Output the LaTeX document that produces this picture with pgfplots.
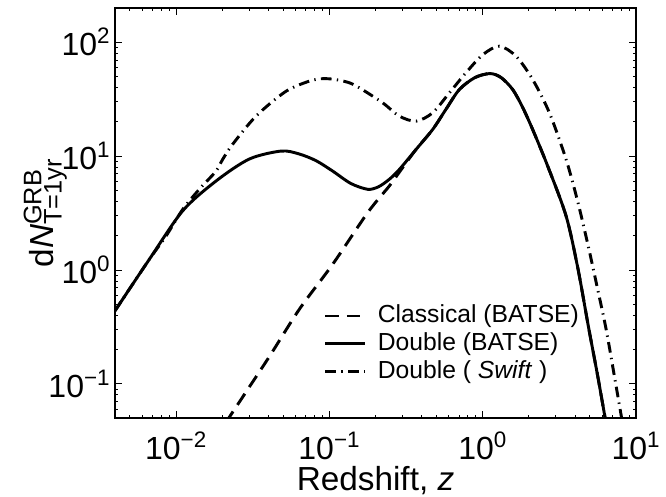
\documentclass[border=0pt]{standalone}
\usepackage{fontspec}
\setmainfont{Liberation Sans}
\usepackage{pgfplots}
\pgfplotsset{compat=1.18}

\begin{document}
\begin{tikzpicture}
\begin{axis}[
  name=ax,
  xmode=log, ymode=log,
  scale only axis, width=390.75pt, height=307.5pt,
  xmin=0.004, xmax=10, ymin=0.05, ymax=200,
  xtick={0.01,0.1,1,10},
  xticklabels={10\textsuperscript{−2},10\textsuperscript{−1},10\textsuperscript{0},10\textsuperscript{1}},
  ytick={0.1,1,10,100},
  yticklabels={10\textsuperscript{−1},10\textsuperscript{0},10\textsuperscript{1},10\textsuperscript{2}},
  minor xtick={0.005,0.006,0.007,0.008,0.009,0.02,0.03,0.04,0.05,0.06,0.07,0.08,0.09,0.2,0.3,0.4,0.5,0.6,0.7,0.8,0.9,2,3,4,5,6,7,8,9},
  minor ytick={0.06,0.07,0.08,0.09,0.2,0.3,0.4,0.5,0.6,0.7,0.8,0.9,2,3,4,5,6,7,8,9,20,30,40,50,60,70,80,90},
  tick align=inside, xtick pos=both, ytick pos=both,
  major tick length=5pt, minor tick length=2.5pt,
  every tick/.style={black, line width=0.6pt},
  axis line style={line width=0.9pt},
  ticklabel style={font=\fontsize{24}{28}\selectfont},
  xticklabel style={yshift=-7pt},
  xlabel={Redshift, \textit{z}},
  label style={font=\fontsize{25}{29}\selectfont},
  xlabel style={at={(axis description cs:0.5,-0.152)}, anchor=center},
  ylabel={d\textit{N}$^{\mbox{\fontsize{19}{19}\selectfont GRB}}_{\mbox{\fontsize{19}{19}\selectfont T=1yr}}$},
  ylabel style={at={(axis description cs:-0.134,0.5)}, anchor=center},
  legend style={draw=none, fill=none, at={(0.393,0.29)}, anchor=north west,
                font=\fontsize{18.5}{22}\selectfont, row sep=0pt,
                nodes={text height=14pt, text depth=4.5pt, inner sep=1.2pt},
                /tikz/every odd column/.append style={column sep=7pt}},
  legend cell align=left,
  legend image code/.code={\draw[#1] (0pt,0pt) -- (30pt,0pt);},
]
% Classical (BATSE)
\addplot[black, line width=2.2pt, smooth, tension=0.5, dash pattern=on 10pt off 6pt] coordinates {
(0.01778,0.0316) (0.02228,0.0509) (0.0398,0.166) (0.0638,0.452) (0.1052,1.122)
(0.1778,3.184) (0.2460,5.46) (0.2864,7.24) (0.3681,11.46) (0.4721,17.14)
(0.5754,25.7) (0.7047,38.46) (0.8913,48.98) (1.117,53.09) (1.318,48.98)
(1.570,38.46) (1.820,26.9) (2.118,17.14) (2.655,8.17) (3.499,2.979)
(4.169,1.047) (4.898,0.316) (5.623,0.1175) (6.383,0.0447)
};
% Double (BATSE)
\addplot[black, line width=2.2pt, smooth, tension=0.5] coordinates {
(0.0040,0.437) (0.00449,0.553) (0.00670,1.239) (0.01104,3.296) (0.01824,6.04)
(0.03006,9.42) (0.04842,11.07) (0.0631,10.47) (0.0818,9.12) (0.1052,7.38)
(0.1380,5.75) (0.1778,5.11) (0.2089,5.37) (0.2460,6.25) (0.2864,7.64)
(0.3681,11.46) (0.4721,17.14) (0.5754,25.7) (0.7047,38.46) (0.8913,48.98)
(1.117,53.09) (1.318,48.98) (1.570,38.46) (1.820,26.9) (2.118,17.14)
(2.655,8.17) (3.499,2.979) (4.169,1.047) (4.898,0.316) (5.623,0.1175) (6.383,0.0447)
};
% Double (Swift)
\addplot[black, line width=2.2pt, smooth, tension=0.5, dash pattern=on 8pt off 4pt on 1pt off 4pt] coordinates {
(0.0040,0.437) (0.00449,0.553) (0.00670,1.239) (0.00861,1.986) (0.01104,3.39)
(0.01419,5.11) (0.01824,7.38) (0.02014,9.35) (0.02339,12.68) (0.03327,22.44)
(0.05224,37.15) (0.0778,46.45) (0.1,47.75) (0.1315,44.57) (0.1570,39.81)
(0.2228,29.38) (0.2864,22.44) (0.3681,20.28) (0.4721,24.04) (0.6067,35.97)
(0.7780,53.95) (1.0,77.6) (1.285,92.3) (1.652,75.3) (2.118,47.1)
(2.723,24.04) (3.499,9.35) (4.169,3.98) (4.898,1.585) (5.623,0.676)
(6.383,0.302) (7.244,0.1148) (8.222,0.0427)
};
\legend{Classical (BATSE), Double (BATSE), Double ( \textit{Swift} )}
\end{axis}
\pgfresetboundingbox
\path ([shift={(-86.25pt,-58.5pt)}]ax.south west) rectangle ([shift={(22.5pt,6pt)}]ax.north east);
\end{tikzpicture}
\end{document}
